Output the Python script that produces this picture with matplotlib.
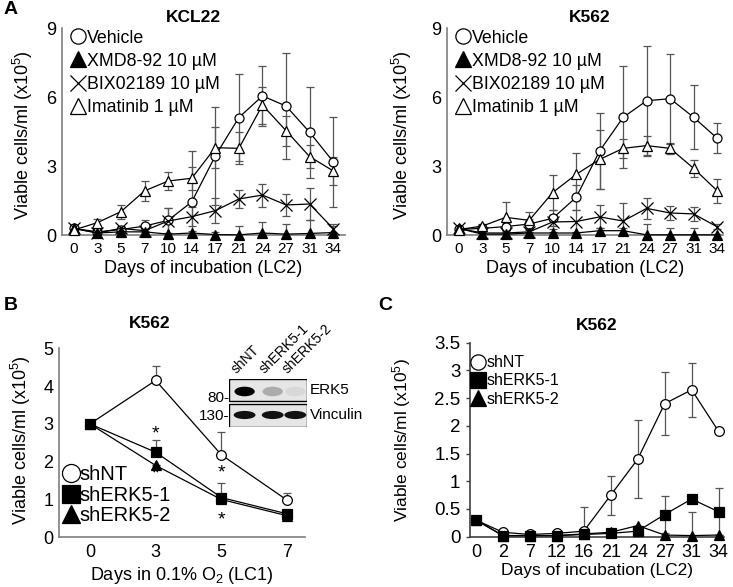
import matplotlib.pyplot as plt
import numpy as np
from matplotlib.lines import Line2D
from matplotlib.patches import Ellipse, Rectangle

plt.rcParams['font.family'] = ['Liberation Sans', 'DejaVu Sans']
plt.rcParams['mathtext.fontset'] = 'custom'
plt.rcParams['mathtext.rm'] = 'Liberation Sans'
plt.rcParams['mathtext.it'] = 'Liberation Sans'

# ---- Panel A data (x10^5 cells/ml) ----
days_a = ['0', '3', '5', '7', '10', '14', '17', '21', '24', '27', '31', '34']

kcl_vehicle = [0.3, 0.15, 0.25, 0.4, 0.65, 1.45, 3.45, 5.12, 6.06, 5.62, 4.48, 3.2]
kcl_vehicle_err = [0.05, 0.05, 0.1, 0.25, 0.55, 2.2, 2.15, 1.9, 1.3, 2.32, 1.98, 1.95]
kcl_xmd = [0.3, 0.1, 0.15, 0.15, 0.05, 0.1, 0.03, 0.02, 0.1, 0.05, 0.08, 0.12]
kcl_xmd_err = [0.05, 0.05, 0.05, 0.05, 0.05, 0.1, 0.1, 0.4, 0.5, 0.45, 0.6, 0.3]
kcl_bix = [0.3, 0.1, 0.3, 0.2, 0.62, 0.81, 1.07, 1.58, 1.75, 1.32, 1.36, 0.29]
kcl_bix_err = [0.05, 0.1, 0.1, 0.15, 0.55, 0.4, 0.55, 0.4, 0.5, 0.48, 0.7, 0.2]
kcl_ima = [0.23, 0.55, 1.03, 1.93, 2.36, 2.48, 3.81, 3.78, 5.66, 4.55, 3.42, 2.8]
kcl_ima_err = [0.05, 0.15, 0.3, 0.45, 0.4, 0.5, 0.9, 0.7, 0.8, 0.65, 0.5, 0.6]

k562_vehicle = [0.26, 0.3, 0.38, 0.49, 0.74, 1.65, 3.67, 5.13, 5.85, 5.94, 5.13, 4.22]
k562_vehicle_err = [0.05, 0.1, 0.15, 0.2, 0.35, 0.55, 1.65, 2.22, 2.4, 1.96, 1.39, 0.65]
k562_xmd = [0.3, 0.05, 0.05, 0.1, 0.1, 0.1, 0.2, 0.2, 0.02, 0.02, 0.02, 0.02]
k562_xmd_err = [0.05, 0.05, 0.05, 0.05, 0.05, 0.05, 0.1, 0.1, 0.48, 0.3, 0.3, 0.05]
k562_bix = [0.3, 0.1, 0.1, 0.15, 0.58, 0.6, 0.8, 0.62, 1.17, 0.97, 0.93, 0.37]
k562_bix_err = [0.05, 0.05, 0.1, 0.1, 0.3, 0.5, 0.5, 0.77, 0.45, 0.3, 0.3, 0.1]
k562_ima = [0.25, 0.4, 0.78, 0.65, 1.86, 2.65, 3.3, 3.78, 3.9, 3.78, 2.91, 1.94]
k562_ima_err = [0.05, 0.1, 0.65, 0.35, 0.78, 0.92, 1.3, 0.4, 0.4, 0.25, 0.38, 0.52]

a_labels = ['Vehicle', 'XMD8-92 10 µM', 'BIX02189 10 µM', 'Imatinib 1 µM']

# ---- Panel B data ----
days_b = ['0', '3', '5', '7']
b_shnt = [3.0, 4.15, 2.18, 0.98]
b_shnt_err = [0, 0.37, 0.6, 0.18]
b_sh1 = [3.0, 2.25, 1.05, 0.62]
b_sh1_err = [0, 0.33, 0.38, 0.05]
b_sh2 = [3.0, 1.9, 1.0, 0.57]
b_sh2_err = [0, 0, 0, 0]
star_x = [1, 1, 2, 2]
star_y = [2.73, 1.67, 1.71, 0.46]

# ---- Panel C data ----
days_c = ['0', '2', '7', '12', '16', '21', '24', '27', '31', '34']
c_shnt = [0.3, 0.08, 0.04, 0.06, 0.1, 0.75, 1.4, 2.4, 2.65, 1.9]
c_shnt_err = [0, 0, 0, 0, 0.44, 0.35, 0.7, 0.57, 0.49, 0]
c_sh1 = [0.3, 0.02, 0.02, 0.02, 0.04, 0.06, 0.1, 0.4, 0.68, 0.45]
c_sh1_err = [0, 0, 0, 0, 0, 0, 0, 0.33, 0, 0.42]
c_sh2 = [0.3, 0.02, 0.02, 0.02, 0.05, 0.08, 0.2, 0.03, 0.02, 0.03]
c_sh2_err = [0, 0, 0, 0, 0, 0, 0, 0, 0.43, 0]
sh_labels = ['shNT', 'shERK5-1', 'shERK5-2']

W, H = 733, 587
fig = plt.figure(figsize=(W / 100, H / 100), dpi=100)


def box(x0, y0, x1, y1):
    # pixel box -> figure fraction rect
    return [x0 / W, 1 - y1 / H, (x1 - x0) / W, (y1 - y0) / H]


ylab = 'Viable cells/ml (x10$^5$)'
ecol = '#555555'


def style(ax, spine_col, xs, ys):
    for s in ['top', 'right']:
        ax.spines[s].set_visible(False)
    for s in ['left', 'bottom']:
        ax.spines[s].set_color(spine_col)
        ax.spines[s].set_linewidth(1.2)
    ax.tick_params(axis='x', length=0, labelsize=xs, pad=5)
    ax.tick_params(axis='y', length=0, labelsize=ys, pad=4)


def plot_a(rect, title, tx, series, ylab_x, xmax):
    ax = fig.add_axes(rect)
    x = np.arange(len(days_a))
    markers = [('o', 'white', 6.5), ('^', 'black', 6.5), ('x', 'black', 9), ('^', 'white', 7)]
    for (vals, err), (m, fc, ms) in zip(series, markers):
        ax.errorbar(x, vals, yerr=err, fmt='none', ecolor=ecol, elinewidth=0.9,
                    capsize=3, capthick=0.9, zorder=2)
        ax.plot(x, vals, color='black', lw=0.9, marker=m, mfc=fc, mec='black',
                ms=ms, mew=0.9, zorder=3, clip_on=False)
    ax.set_xlim(-0.5, xmax)
    ax.set_ylim(0, 9)
    ax.set_yticks([0, 3, 6, 9])
    ax.set_xticks(x)
    ax.set_xticklabels(days_a)
    style(ax, '#7f7f7f', 11, 13)
    ax.set_xlabel('Days of incubation (LC2)', fontsize=13, labelpad=3)
    ax.set_ylabel(ylab, fontsize=13)
    ax.yaxis.set_label_coords(ylab_x / W, 0.77, transform=fig.transFigure)
    fig.text(tx / W, 1 - 18 / H, title, ha='center', va='center',
             fontsize=12.5, fontweight='bold')
    handles = [Line2D([], [], ls='none', marker=m, mfc=fc, mec='black', ms=11, mew=0.9)
               for m, fc, ms in markers]
    ax.legend(handles, a_labels, loc='upper left', bbox_to_anchor=(-0.005, 1.045),
              frameon=False, fontsize=12.8, handlelength=0.8, handletextpad=0.1,
              labelspacing=0.34, borderaxespad=0.2)
    return ax


plot_a(box(62, 28.3, 345, 235.3), 'KCL22', 193,
       [(kcl_vehicle, kcl_vehicle_err), (kcl_xmd, kcl_xmd_err),
        (kcl_bix, kcl_bix_err), (kcl_ima, kcl_ima_err)], 35, 11.5)
plot_a(box(447, 28.3, 723, 235.3), 'K562', 590,
       [(k562_vehicle, k562_vehicle_err), (k562_xmd, k562_xmd_err),
        (k562_bix, k562_bix_err), (k562_ima, k562_ima_err)], 414, 11.25)

# ---- Panel B ----
axb = fig.add_axes(box(59, 348.3, 305, 537.3))
xb = np.arange(len(days_b))
b_markers = [('o', 'white', 7), ('s', 'black', 7), ('^', 'black', 6.5)]
for vals, err, (m, fc, ms) in zip([b_shnt, b_sh1, b_sh2], [b_shnt_err, b_sh1_err, b_sh2_err],
                                   b_markers):
    axb.errorbar(xb, vals, yerr=[np.zeros(len(err)), err], fmt='none', ecolor=ecol,
                 elinewidth=0.9, capsize=3, capthick=0.9, zorder=2)
    axb.plot(xb, vals, color='black', lw=0.9, marker=m, mfc=fc, mec='black',
             ms=ms, mew=0.9, zorder=3)
for sx, sy in zip(star_x, star_y):
    axb.text(sx, sy, '*', ha='center', va='center', fontsize=14)
axb.set_xlim(-0.47, 3.27)
axb.set_ylim(0, 5)
axb.set_yticks([0, 1, 2, 3, 4, 5])
axb.set_xticks(xb)
axb.set_xticklabels(days_b)
style(axb, '#7f7f7f', 13, 13)
axb.set_xlabel('Days in 0.1% O$_2$ (LC1)', fontsize=13, labelpad=3)
axb.set_ylabel(ylab, fontsize=13)
axb.yaxis.set_label_coords(33 / W, 0.25, transform=fig.transFigure)
fig.text(150 / W, 1 - 323 / H, 'K562', ha='center', va='center', fontsize=12.5,
         fontweight='bold')
hb = [Line2D([], [], ls='none', marker=m, mfc=fc, mec='black', ms=13, mew=0.9)
      for m, fc, ms in b_markers]
axb.legend(hb, sh_labels, loc='lower left', bbox_to_anchor=(-0.03, 0.0),
           frameon=False, fontsize=14.5, handlelength=0.7, handletextpad=0.1,
           labelspacing=0.08, borderaxespad=0.2)

# western blot inset
axw = fig.add_axes(box(229, 379, 307, 427))
axw.set_xlim(0, 1)
axw.set_ylim(0, 1)
axw.axis('off')
axw.add_patch(Rectangle((0, 0.54), 1, 0.46, fc='#e6e6e6', ec='black', lw=1))
axw.add_patch(Rectangle((0, 0), 1, 0.48, fc='#e6e6e6', ec='black', lw=1))
lanes = [0.2, 0.56, 0.85]
erk5_alpha = [1.0, 0.25, 0.06]
for lx, a in zip(lanes, erk5_alpha):
    axw.add_patch(Ellipse((lx, 0.74), 0.26, 0.2, fc='black', alpha=a, lw=0))
    axw.add_patch(Ellipse((lx, 0.25), 0.28, 0.17, fc='#111111', lw=0))
for lx, lab in zip(lanes, sh_labels):
    fig.text((229 + lx * 78 - 6) / W, 1 - 376 / H, lab, rotation=45, ha='left',
             va='bottom', rotation_mode='anchor', fontsize=10)
fig.text(310 / W, 1 - 390 / H, 'ERK5', ha='left', va='center', fontsize=11)
fig.text(310 / W, 1 - 415 / H, 'Vinculin', ha='left', va='center', fontsize=11)
fig.text(229 / W, 1 - 398 / H, '80-', ha='right', va='center', fontsize=11)
fig.text(229 / W, 1 - 416 / H, '130-', ha='right', va='center', fontsize=11)

# ---- Panel C ----
axc = fig.add_axes(box(470, 342.7, 724, 536.7))
xc = np.arange(len(days_c))
for vals, err, (m, fc, ms) in zip([c_shnt, c_sh1, c_sh2], [c_shnt_err, c_sh1_err, c_sh2_err],
                                   b_markers):
    axc.errorbar(xc, vals, yerr=err, fmt='none', ecolor=ecol, elinewidth=0.9,
                 capsize=3, capthick=0.9, zorder=2)
    axc.plot(xc, vals, color='black', lw=0.9, marker=m, mfc=fc, mec='black',
             ms=ms, mew=0.9, zorder=3, clip_on=False)
axc.set_xlim(-0.22, 9.2)
axc.set_ylim(0, 3.5)
axc.set_yticks([0, 0.5, 1, 1.5, 2, 2.5, 3, 3.5])
axc.set_yticklabels(['0', '0.5', '1', '1.5', '2', '2.5', '3', '3.5'])
axc.set_xticks(xc)
axc.set_xticklabels(days_c)
style(axc, '#404040', 13, 13.5)
axc.tick_params(axis='y', length=3, width=1, color='#404040')
axc.set_xlabel('Days of incubation (LC2)', fontsize=12.5, labelpad=2)
axc.set_ylabel(ylab, fontsize=12.5)
axc.yaxis.set_label_coords(413 / W, 0.25, transform=fig.transFigure)
fig.text(597 / W, 1 - 325 / H, 'K562', ha='center', va='center', fontsize=12.5,
         fontweight='bold')
hc = [Line2D([], [], ls='none', marker=m, mfc=fc, mec='black', ms=11, mew=0.9)
      for m, fc, ms in b_markers]
axc.legend(hc, sh_labels, loc='upper left', bbox_to_anchor=(-0.03, 0.985),
           frameon=False, fontsize=11.5, handlelength=0.8, handletextpad=0.1,
           labelspacing=0.2, borderaxespad=0.2)

# panel letters
fig.text(4 / W, 1 - 10 / H, 'A', ha='left', va='center', fontsize=14, fontweight='bold')
fig.text(4 / W, 1 - 305 / H, 'B', ha='left', va='center', fontsize=14, fontweight='bold')
fig.text(378 / W, 1 - 305 / H, 'C', ha='left', va='center', fontsize=14, fontweight='bold')

fig.savefig('out.png', dpi=100)
